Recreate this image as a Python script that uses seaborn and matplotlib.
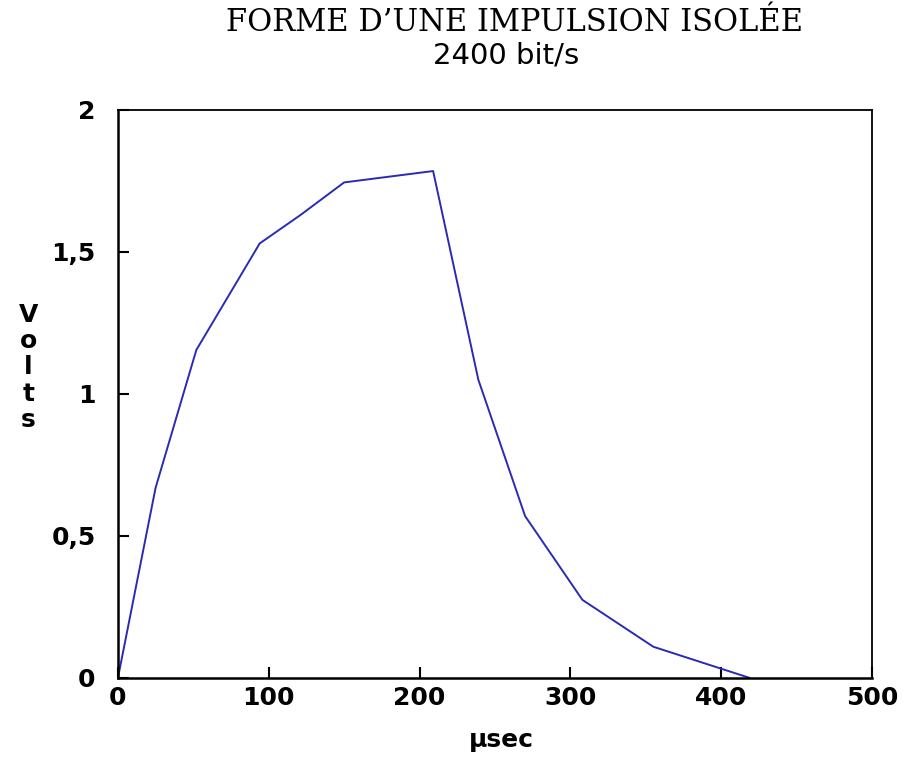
import numpy as np
import pandas as pd
import seaborn as sns
import matplotlib.pyplot as plt
from matplotlib.ticker import FuncFormatter

# forme de l'impulsion (lecture sur la courbe)
temps_us = [0, 25, 52, 94, 121, 150, 209, 239, 270, 308, 355, 419]
tension_v = [0.0, 0.67, 1.155, 1.53, 1.63, 1.745, 1.785, 1.05, 0.57, 0.275, 0.11, 0.0]

x_ticks = [0, 100, 200, 300, 400, 500]
y_ticks = [0, 0.5, 1, 1.5, 2]

titre = "FORME D\u2019UNE IMPULSION ISOLÉE"
sous_titre = "2400 bit/s"
label_x = "µsec"
label_y = "Volts"

sns.set_theme(style="white")
plt.rcParams["font.family"] = ["DejaVu Sans"]
plt.rcParams["text.color"] = "black"
plt.rcParams["axes.labelcolor"] = "black"

df = pd.DataFrame({"t": temps_us, "v": tension_v})

fig = plt.figure(figsize=(9.07, 7.57), dpi=100)
ax = fig.add_axes([0.130, 0.1044, 0.8314, 0.7503])

sns.lineplot(data=df, x="t", y="v", ax=ax, color="#2a2ab5", linewidth=1.4)

ax.set_xlim(0, 500)
ax.set_ylim(0, 2)
ax.set_xticks(x_ticks)
ax.set_yticks(y_ticks)
ax.yaxis.set_major_formatter(FuncFormatter(lambda v, p: f"{v:g}".replace(".", ",")))

ax.tick_params(direction="in", length=8, width=1.5, colors="black",
               labelsize=18, bottom=True, left=True, top=False, right=False)
ax.tick_params(axis="x", pad=6)
ax.tick_params(axis="y", pad=16)
for lab in ax.get_xticklabels() + ax.get_yticklabels():
    lab.set_fontweight("bold")

for side, sp in ax.spines.items():
    sp.set_color("black")
    sp.set_linewidth(1.8 if side in ("left", "bottom") else 1.3)

ax.set_xlabel(label_x, fontsize=18, fontweight="bold", va="center")
ax.xaxis.set_label_coords(0.508, -0.109)
ax.set_ylabel("\n".join(label_y), fontsize=18, fontweight="bold",
              rotation=0, linespacing=1.12, va="center", ha="center")
ax.yaxis.set_label_coords(-0.119, 0.547)

fig.text(0.567, 0.970, titre, family="DejaVu Serif", fontsize=22,
         ha="center", va="center")
fig.text(0.558, 0.927, sous_titre, fontsize=21, ha="center", va="center")

fig.savefig("out.png", dpi=100, facecolor="white")
